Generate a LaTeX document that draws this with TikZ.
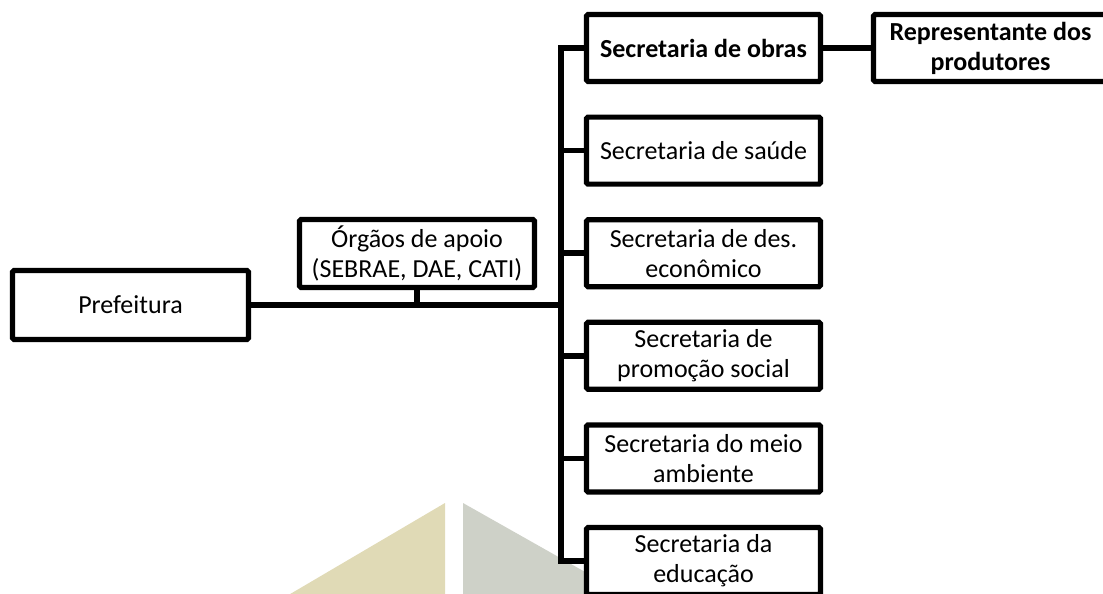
\documentclass[tikz,border=0pt]{standalone}
\usepackage{fontspec}
\setmainfont{Carlito}
\usetikzlibrary{backgrounds}
\definecolor{wmtan}{RGB}{224,218,182}
\definecolor{wmgray}{RGB}{206,209,200}
\begin{document}
\begin{tikzpicture}[x=1pt,y=-1pt,
  box/.style={draw=black,line width=5.2pt,fill=white,inner sep=0pt,align=center,
    minimum width=234pt,minimum height=67pt,rounded corners=1.5pt,
    font=\fontsize{26}{30}\selectfont},
  bbox/.style={box,font=\fontsize{26}{30}\selectfont\bfseries},
  link/.style={draw=black,line width=5.6pt}]
\useasboundingbox (0,0) rectangle (1103,594);
\clip (0,0) rectangle (1103,594);
% nodes
\node[box,minimum width=236pt,minimum height=69pt] (pref) at (130.5,305) {Prefeitura};
\node[box,minimum width=235pt,minimum height=68pt] (org) at (417,253.5) {Órgãos de apoio\\(SEBRAE, DAE, CATI)};
\coordinate (tk) at (561,305);
\node[bbox] (obras) at (703.5,48) {Secretaria de obras};
\node[bbox] (repr) at (990.5,48) {Representante dos\\produtores};
\node[box] (saude) at (703.5,150.6) {Secretaria de saúde};
\node[box] (des) at (703.5,253.2) {Secretaria de des.\\econômico};
\node[box] (prom) at (703.5,355.8) {Secretaria de\\promoção social};
\node[box] (meio) at (703.5,458.4) {Secretaria do meio\\ambiente};
\node[box] (edu) at (703.5,561) {Secretaria da\\educação};
\begin{pgfonlayer}{background}
% watermark shapes
\fill[wmtan] (445,503) -- (445,600) -- (280,600) -- cycle;
\fill[wmgray] (463,503) -- (640,603) -- (463,603) -- cycle;
% connectors
\draw[link] (pref.east) -- (tk);
\draw[link] (org.south) -- (org.south |- tk);
\draw[link,line join=miter] (obras.west) -| (tk) |- (edu.west);
\draw[link] (saude.west) -- (saude.west -| tk);
\draw[link] (des.west) -- (des.west -| tk);
\draw[link] (prom.west) -- (prom.west -| tk);
\draw[link] (meio.west) -- (meio.west -| tk);
\draw[link] (obras.east) -- (repr.west);
\end{pgfonlayer}
\end{tikzpicture}
\end{document}
